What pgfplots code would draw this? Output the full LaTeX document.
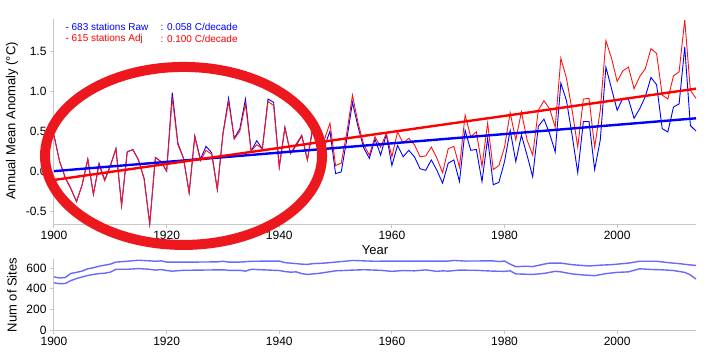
\documentclass[border=0pt]{standalone}
\usepackage{fontspec}
\setmainfont{Liberation Sans}
\usepackage{pgfplots}
\pgfplotsset{compat=1.18}
\definecolor{ell}{RGB}{236,24,30}
\definecolor{dred}{RGB}{255,20,20}
\definecolor{site}{RGB}{105,105,255}
\begin{document}
\begin{tikzpicture}[x=1pt,y=1pt]
\path[use as bounding box] (0pt,0pt) rectangle (720pt,360pt);
\pgfplotsset{
  every axis/.append style={
    scale only axis,
    axis x line*=bottom, axis y line*=left,
    axis line style={draw=black!22, line width=1pt},
    tick style={draw=black!22, line width=1pt},
    tick align=outside, major tick length=4pt,
    tick label style={font=\fontsize{12}{14}\selectfont},
    /pgf/number format/assume math mode=true,
    xtick={1900,1920,1940,1960,1980,2000},
    xticklabel style={/pgf/number format/1000 sep={}},
    clip=false,
  }
}
\begin{axis}[
  at={(54pt,136pt)}, anchor=south west, width=642pt, height=205pt,
  xmin=1900, xmax=2014, ymin=-0.66, ymax=1.9,
  ytick={-0.5,0,0.5,1,1.5},
  yticklabel style={/pgf/number format/fixed,/pgf/number format/precision=1,/pgf/number format/fixed zerofill},
]
\addplot[blue, line width=0.9pt] coordinates {
(1900,0.45)(1901,0.12)(1902,-0.08)(1903,-0.22)(1904,-0.38)(1905,-0.17)(1906,0.15)(1907,-0.29)(1908,0.10)(1909,-0.11)
(1910,0.07)(1911,0.28)(1912,-0.43)(1913,0.24)(1914,0.27)(1915,0.14)(1916,-0.09)(1917,-0.66)(1918,0.17)(1919,0.12)
(1920,0.00)(1921,0.98)(1922,0.35)(1923,0.16)(1924,-0.27)(1925,0.44)(1926,0.15)(1927,0.31)(1928,0.23)(1929,-0.23)
(1930,0.47)(1931,0.91)(1932,0.41)(1933,0.53)(1934,0.90)(1935,0.25)(1936,0.38)(1937,0.28)(1938,0.90)(1939,0.86)
(1940,0.05)(1941,0.55)(1942,0.22)(1943,0.32)(1944,0.44)(1945,0.14)(1946,0.55)(1947,0.25)(1948,0.30)(1949,0.50)
(1950,-0.03)(1951,-0.01)(1952,0.40)(1953,0.86)(1954,0.55)(1955,0.29)(1956,0.16)(1957,0.40)(1958,0.20)(1959,0.46)
(1960,0.07)(1961,0.32)(1962,0.18)(1963,0.26)(1964,0.18)(1965,0.03)(1966,0.01)(1967,0.14)(1968,0.01)(1969,-0.15)
(1970,0.10)(1971,0.14)(1972,-0.13)(1973,0.51)(1974,0.26)(1975,0.27)(1976,-0.13)(1977,0.41)(1978,-0.17)(1979,-0.14)
(1980,0.12)(1981,0.51)(1982,0.12)(1983,0.45)(1984,0.20)(1985,-0.07)(1986,0.56)(1987,0.65)(1988,0.47)(1989,0.24)
(1990,1.10)(1991,0.88)(1992,0.45)(1993,-0.02)(1994,0.62)(1995,0.62)(1996,0.02)(1997,0.39)(1998,1.30)(1999,1.03)
(2000,0.76)(2001,0.91)(2002,0.90)(2003,0.66)(2004,0.78)(2005,0.93)(2006,1.17)(2007,1.08)(2008,0.53)(2009,0.49)
(2010,0.80)(2011,0.84)(2012,1.55)(2013,0.57)(2014,0.50)};
\addplot[dred, line width=0.9pt] coordinates {
(1900,0.44)(1901,0.12)(1902,-0.08)(1903,-0.22)(1904,-0.38)(1905,-0.17)(1906,0.15)(1907,-0.29)(1908,0.08)(1909,-0.12)
(1910,0.06)(1911,0.28)(1912,-0.43)(1913,0.24)(1914,0.27)(1915,0.14)(1916,-0.10)(1917,-0.66)(1918,0.17)(1919,0.12)
(1920,0.00)(1921,0.92)(1922,0.33)(1923,0.16)(1924,-0.27)(1925,0.43)(1926,0.13)(1927,0.26)(1928,0.21)(1929,-0.23)
(1930,0.46)(1931,0.87)(1932,0.40)(1933,0.50)(1934,0.84)(1935,0.25)(1936,0.33)(1937,0.28)(1938,0.87)(1939,0.82)
(1940,0.05)(1941,0.54)(1942,0.22)(1943,0.34)(1944,0.45)(1945,0.14)(1946,0.58)(1947,0.28)(1948,0.39)(1949,0.60)
(1950,0.07)(1951,0.10)(1952,0.48)(1953,0.95)(1954,0.60)(1955,0.33)(1956,0.20)(1957,0.43)(1958,0.30)(1959,0.47)
(1960,0.18)(1961,0.49)(1962,0.35)(1963,0.41)(1964,0.33)(1965,0.18)(1966,0.19)(1967,0.30)(1968,0.16)(1969,-0.02)
(1970,0.28)(1971,0.31)(1972,0.05)(1973,0.70)(1974,0.43)(1975,0.49)(1976,0.06)(1977,0.60)(1978,0.02)(1979,0.07)
(1980,0.30)(1981,0.73)(1982,0.39)(1983,0.74)(1984,0.39)(1985,0.20)(1986,0.76)(1987,0.88)(1988,0.78)(1989,0.55)
(1990,1.41)(1991,1.16)(1992,0.76)(1993,0.30)(1994,0.90)(1995,0.91)(1996,0.30)(1997,0.76)(1998,1.63)(1999,1.41)
(2000,1.12)(2001,1.25)(2002,1.30)(2003,1.03)(2004,1.18)(2005,1.28)(2006,1.53)(2007,1.47)(2008,0.95)(2009,0.90)
(2010,1.19)(2011,1.24)(2012,1.89)(2013,1.01)(2014,0.91)};
\addplot[blue, line width=2.4pt] coordinates {(1900,0.0)(2014,0.66)};
\addplot[red, line width=2.4pt] coordinates {(1900,-0.11)(2014,1.03)};
\coordinate (E) at (axis cs:1923.0,0.19);
\end{axis}
\draw[ell, line width=10pt] (E) ellipse [x radius=138.5pt, y radius=89pt];
\begin{axis}[
  at={(54pt,30pt)}, anchor=south west, width=642pt, height=71pt,
  xmin=1900, xmax=2014, ymin=0, ymax=690,
  ytick={0,200,400,600},
]
\addplot[site, line width=1.4pt] coordinates {
(1900,516)(1901,505)(1902,510)(1903,550)(1904,560)(1905,573)(1906,595)(1907,605)(1908,620)(1909,630)
(1910,640)(1911,660)(1913,668)(1915,678)(1917,672)(1918,668)(1919,672)(1920,660)(1925,660)(1929,662)
(1930,668)(1931,660)(1933,660)(1935,668)(1940,670)(1941,655)(1942,650)(1944,640)(1945,638)(1946,645)
(1948,650)(1950,660)(1952,670)(1953,676)(1955,672)(1957,668)(1960,670)(1965,670)(1970,670)(1971,676)
(1973,670)(1978,672)(1979,665)(1980,670)(1981,640)(1982,615)(1984,620)(1985,616)(1987,640)(1988,650)
(1990,650)(1992,635)(1995,622)(1997,630)(1999,635)(2000,640)(2002,650)(2004,668)(2007,668)(2009,655)
(2011,645)(2013,632)(2014,628)};
\addplot[site, line width=1.4pt] coordinates {
(1900,458)(1901,450)(1902,452)(1903,480)(1904,500)(1905,515)(1906,530)(1907,540)(1908,548)(1909,552)
(1910,562)(1911,590)(1913,590)(1915,597)(1917,590)(1918,582)(1919,588)(1920,578)(1921,572)(1923,580)
(1930,585)(1931,580)(1933,580)(1934,572)(1935,590)(1937,585)(1940,578)(1941,568)(1942,562)(1943,565)
(1944,548)(1945,540)(1947,550)(1950,575)(1953,582)(1955,586)(1958,580)(1960,570)(1962,578)(1964,575)
(1966,584)(1968,570)(1969,575)(1970,572)(1972,582)(1975,580)(1978,572)(1980,570)(1981,575)(1982,545)
(1985,540)(1987,550)(1989,570)(1990,565)(1992,545)(1994,535)(1996,528)(1998,548)(2000,560)(2002,565)
(2004,595)(2006,588)(2008,585)(2010,578)(2012,560)(2013,535)(2014,495)};
\end{axis}
\node[font=\fontsize{10}{12}\selectfont, text=blue, anchor=west] at (62pt,333pt) {- 683 stations Raw};
\node[font=\fontsize{10}{12}\selectfont, text=blue, anchor=west] at (157pt,333pt) {: 0.058 C/decade};
\node[font=\fontsize{10}{12}\selectfont, text=red, anchor=west] at (62pt,321pt) {- 615 stations Adj};
\node[font=\fontsize{10}{12}\selectfont, text=red, anchor=west] at (157pt,321pt) {: 0.100 C/decade};
\node[font=\fontsize{13}{15}\selectfont, rotate=90] at (12pt,239pt) {Annual Mean Anomaly (°C)};
\node[font=\fontsize{13}{15}\selectfont] at (375pt,110pt) {Year};
\node[font=\fontsize{13}{15}\selectfont, rotate=90] at (12pt,65pt) {Num of Sites};
\end{tikzpicture}
\end{document}
